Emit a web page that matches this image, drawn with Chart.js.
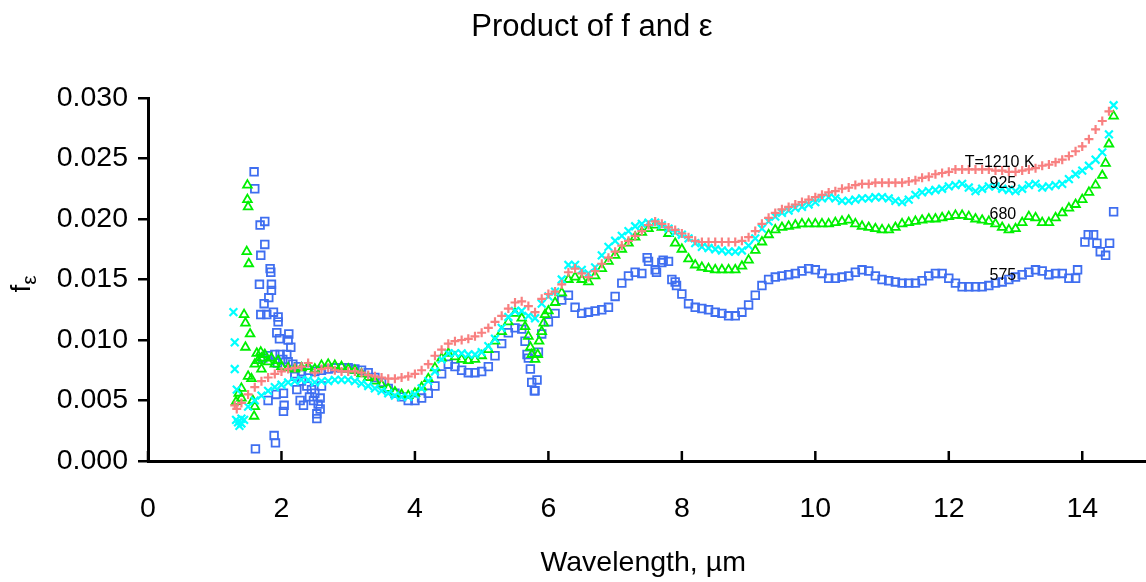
<!DOCTYPE html>
<html>
<head>
<meta charset="utf-8">
<title>Product of f and ε</title>
<script src="https://cdn.jsdelivr.net/npm/chart.js@4.4.1/dist/chart.umd.min.js"></script>
<style>
  html, body { margin: 0; padding: 0; background: #fff; }
  #wrap { width: 1146px; height: 582px; }
</style>
</head>
<body>
<div id="wrap"><canvas id="feChart" width="1146" height="582"></canvas></div>
<script>
// Wavelength grid (µm) shared by the four temperature series
const wavelength = [
  1.3, 1.4, 1.5, 1.6, 1.7, 1.8, 1.9,
  2.0, 2.1, 2.2, 2.3, 2.4, 2.5, 2.6, 2.7, 2.8, 2.9,
  3.0, 3.1, 3.2, 3.3, 3.4, 3.5, 3.6, 3.7, 3.8, 3.9,
  4.0, 4.1, 4.2, 4.3, 4.4, 4.5, 4.6, 4.7, 4.8, 4.9,
  5.0, 5.1, 5.2, 5.3, 5.4, 5.5, 5.6, 5.7, 5.8, 5.9,
  6.0, 6.1, 6.2, 6.3, 6.4, 6.5, 6.6, 6.7, 6.8, 6.9,
  7.0, 7.1, 7.2, 7.3, 7.4, 7.5, 7.6, 7.7, 7.8, 7.9,
  8.0, 8.1, 8.2, 8.3, 8.4, 8.5, 8.6, 8.7, 8.8, 8.9,
  9.0, 9.1, 9.2, 9.3, 9.4, 9.5, 9.6, 9.7, 9.8, 9.9,
  10.0, 10.1, 10.2, 10.3, 10.4, 10.5, 10.6, 10.7, 10.8, 10.9,
  11.0, 11.1, 11.2, 11.3, 11.4, 11.5, 11.6, 11.7, 11.8, 11.9,
  12.0, 12.1, 12.2, 12.3, 12.4, 12.5, 12.6, 12.7, 12.8, 12.9,
  13.0, 13.1, 13.2, 13.3, 13.4, 13.5, 13.6, 13.7, 13.8, 13.9,
  14.0, 14.1, 14.2, 14.3, 14.4
];

// T = 1210 K
const fe1210 = [
  .0046, .0048, .0055, .0061, .0066, .0069, .0072,
  .0074, .0076, .0077, .0078, .0081, .0073, .0076, .0077, .0075, .0074,
  .0074, .0074, .0073, .0071, .0070, .0069, .0068, .0068, .0069, .0070,
  .0072, .0075, .0080, .0087, .0092, .0097, .0099, .0100, .0101, .0103,
  .0106, .0110, .0115, .0120, .0126, .0131, .0132, .0128, .0123, .0134,
  .0138, .0140, .0146, .0156, .0159, .0155, .0152, .0157, .0163, .0168,
  .0173, .0178, .0182, .0186, .0190, .0195, .0198, .0196, .0193, .0191,
  .0188, .0185, .0182, .0181, .0181, .0181, .0181, .0181, .0181, .0182,
  .0185, .0190, .0196, .0201, .0205, .0208, .0210, .0212, .0214, .0216,
  .0218, .0220, .0222, .0223, .0225, .0226, .0228, .0229, .0229, .0230,
  .0230, .0230, .0230, .0230, .0231, .0232, .0234, .0235, .0237, .0238,
  .0239, .0241, .0241, .0241, .0241, .0241, .0241, .0240, .0240, .0239,
  .0239, .0240, .0241, .0242, .0244, .0245, .0247, .0249, .0252, .0256,
  .0260, .0266, .0274, .0281, .0289
];

// T = 925 K
const fe925 = [
  null, .0035, .0045, .0050, .0054, .0058, .0061,
  .0063, .0065, .0066, .0067, .0067, .0065, .0066, .0066, .0067, .0067,
  .0067, .0066, .0064, .0062, .0060, .0058, .0056, .0054, .0053, .0053,
  .0055, .0060, .0066, .0074, .0084, .0089, .0089, .0089, .0088, .0088,
  .0090, .0095, .0101, .0110, .0119, .0124, .0124, .0120, .0118, .0130,
  .0136, .0140, .0150, .0162, .0162, .0158, .0155, .0160, .0170, .0177,
  .0182, .0186, .0190, .0194, .0196, .0197, .0197, .0195, .0192, .0189,
  .0187, .0184, .0180, .0177, .0176, .0175, .0174, .0173, .0173, .0174,
  .0178, .0184, .0192, .0198, .0202, .0205, .0207, .0209, .0210, .0212,
  .0214, .0217, .0218, .0217, .0215, .0215, .0216, .0217, .0217, .0218,
  .0218, .0217, .0215, .0214, .0216, .0220, .0222, .0223, .0224, .0225,
  .0227, .0228, .0229, .0226, .0223, .0225, .0227, .0227, .0225, .0224,
  .0223, .0225, .0228, .0229, .0226, .0227, .0228, .0229, .0233, .0237,
  .0240, .0244, .0249, .0255, .0270
];

// T = 680 K
const fe680 = [
  null, .0060, .0070, .0080, .0085, .0082, .0080,
  .0078, .0077, .0076, .0077, .0078, .0076, .0079, .0080, .0079, .0078,
  .0076, .0075, .0072, .0069, .0066, .0063, .0060, .0057, .0055, .0054,
  .0056, .0061, .0068, .0077, .0085, .0089, .0086, .0084, .0083, .0084,
  .0087, .0092, .0099, .0107, .0115, .0122, .0118, .0103, .0084, .0107,
  .0124, .0131, .0139, .0150, .0152, .0150, .0148, .0153, .0159, .0165,
  .0170, .0175, .0180, .0185, .0189, .0192, .0195, .0193, .0188, .0180,
  .0175, .0167, .0162, .0160, .0159, .0158, .0158, .0158, .0158, .0161,
  .0166, .0174, .0181, .0187, .0191, .0193, .0194, .0195, .0196, .0196,
  .0196, .0196, .0196, .0197, .0198, .0199, .0196, .0194, .0193, .0192,
  .0191, .0191, .0193, .0196, .0197, .0198, .0199, .0200, .0200, .0201,
  .0202, .0203, .0203, .0202, .0200, .0199, .0198, .0196, .0193, .0191,
  .0192, .0197, .0202, .0201, .0197, .0197, .0201, .0205, .0209, .0212,
  .0216, .0222, .0228, .0236, .0262
];

// T = 575 K
const fe575 = [
  null, null, null, null, null, null, null,
  null, null, .0072, .0074, .0075, .0074, .0075, .0076, .0077, .0077,
  .0077, .0076, .0075, .0073, .0069, .0065, .0060, .0056, .0053, .0050,
  .0050, .0052, .0056, .0062, .0072, .0080, .0078, .0075, .0073, .0073,
  .0074, .0078, .0087, .0097, .0106, .0110, .0109, .0085, .0058, .0105,
  .0115, .0122, .0133, .0137, .0127, .0122, .0123, .0124, .0125, .0127,
  .0136, .0147, .0153, .0156, .0155, .0165, .0158, .0164, .0165, .0148,
  .0138, .0130, .0127, .0126, .0125, .0123, .0122, .0120, .0120, .0123,
  .0129, .0137, .0145, .0150, .0152, .0153, .0154, .0155, .0157, .0159,
  .0158, .0155, .0151, .0151, .0152, .0153, .0156, .0158, .0157, .0153,
  .0150, .0149, .0148, .0147, .0147, .0147, .0149, .0153, .0155, .0155,
  .0151, .0147, .0144, .0144, .0144, .0144, .0145, .0147, .0148, .0150,
  .0152, .0154, .0156, .0158, .0157, .0154, .0155, .0155, .0151, .0151,
  null, null, null, null, null
];

// scattered readings off the grid (noisy short-wave end, dips, long-wave end)
const extraWl1210 = [1.33];
const extraFe1210 = [.0043];

const extraWl925 = [1.28, 1.30, 1.30, 1.33, 1.35, 1.37, 1.40, 1.44, 1.32, 14.47];
const extraFe925 = [.0123, .0098, .0076, .0059, .0032, .0029, .0031, .0034, .0034, .0294];

const extraWl680 = [
  1.49, 1.49, 1.50, 1.48, 1.51, 1.44, 1.46, 1.53, 1.46, 1.63, 1.69, 1.36,
  1.55, 1.60, 1.59, 1.57, 1.65, 1.75, 1.85, 1.95, 1.70, 1.32, 1.40,
  5.65, 5.73, 5.75, 5.84, 5.86, 5.93, 5.95,
  14.35, 14.47
];
const extraFe680 = [
  .0228, .0216, .0210, .0173, .0163, .0121, .0114, .0105, .0094, .0089, .0090, .0056,
  .0068, .0045, .0037, .0050, .0083, .0088, .0085, .0083, .0076, .0049, .0052,
  .0111, .0094, .0088, .0088, .0099, .0114, .0121,
  .0246, .0285
];

const extraWl575 = [
  1.59, 1.60, 1.68, 1.75, 1.75, 1.69, 1.83, 1.84, 1.67, 1.85,
  1.85, 1.81, 1.74, 1.69, 1.78, 1.88, 1.95, 1.95, 1.93, 1.97,
  2.11, 2.10, 2.14, 1.90, 1.98, 2.08, 2.10, 1.94, 1.80, 1.92,
  2.03, 2.04, 2.03, 1.89, 1.91, 1.61, 2.20, 2.23, 2.28, 2.33,
  2.45, 2.48, 2.58, 2.58, 2.53, 2.53, 2.60, 1.72, 1.80, 2.02,
  2.17, 2.25, 2.30, 2.38, 2.42, 2.50, 2.55,
  5.65, 5.68, 5.73, 5.75, 5.79, 5.83, 5.85,
  7.48, 7.62, 7.72, 7.85, 7.92,
  13.93, 14.04, 14.09, 14.17, 14.22, 14.27, 14.35, 14.41, 14.47
];
const extraFe575 = [
  .0239, .0225, .0195, .0198, .0179, .0170, .0159, .0156, .0146, .0146,
  .0141, .0135, .0130, .0121, .0121, .0123, .0119, .0115, .0106, .0101,
  .0105, .0100, .0094, .0088, .0088, .0088, .0082, .0081, .0050, .0055,
  .0056, .0046, .0041, .0021, .0015, .0010, .0070, .0059, .0050, .0046,
  .0059, .0050, .0052, .0043, .0039, .0035, .0062, .0085, .0087, .0084,
  .0080, .0078, .0066, .0062, .0053, .0056, .0047,
  .0099, .0088, .0076, .0065, .0058, .0067, .0090,
  .0168, .0156, .0166, .0150, .0145,
  .0158, .0181, .0187, .0187, .0180, .0173, .0170, .0180, .0206
];

// Axis ticks
const xTicks = [0, 2, 4, 6, 8, 10, 12, 14];
const yTicks = [0, 0.005, 0.010, 0.015, 0.020, 0.025, 0.030];

// Curve labels placed in data units
const curveLabels = ['T=1210 K', '925', '680', '575'];
const curveLabelWl = [12.24, 12.61, 12.61, 12.61];
const curveLabelFe = [0.0243, 0.0226, 0.0200, 0.0150];

const FONT = "'Liberation Sans', Arial, sans-serif";

function toPoints(values, extraWl, extraFe) {
  const pts = [];
  wavelength.forEach((w, i) => {
    if (values[i] !== null) pts.push({ x: w, y: values[i] });
  });
  extraWl.forEach((w, i) => pts.push({ x: w, y: extraFe[i] }));
  return pts;
}

// titles, curve labels and inward x ticks
const textPlugin = {
  id: 'textPlugin',
  afterDraw(chart) {
    const ctx = chart.ctx;
    const area = chart.chartArea;
    const xs = chart.scales.x;
    const ys = chart.scales.y;
    ctx.save();
    ctx.fillStyle = '#000';
    ctx.strokeStyle = '#000';

    // the x axis line runs on to the right edge of the figure
    const axisY = Math.round(area.bottom) + 0.5;
    ctx.lineWidth = 3;
    ctx.beginPath();
    ctx.moveTo(area.right - 2, axisY);
    ctx.lineTo(chart.width, axisY);
    ctx.stroke();

    // x ticks point up into the plot
    ctx.lineWidth = 2.5;
    xs.ticks.forEach((t) => {
      const px = xs.getPixelForValue(t.value);
      ctx.beginPath();
      ctx.moveTo(px, area.bottom);
      ctx.lineTo(px, area.bottom - 10);
      ctx.stroke();
    });

    ctx.textBaseline = 'alphabetic';
    ctx.textAlign = 'center';
    ctx.font = '31px ' + FONT;
    ctx.fillText('Product of f and ε', 592, 36);

    ctx.font = '28.5px ' + FONT;
    ctx.fillText('Wavelength, µm', (area.left + area.right) / 2, 571);

    // y title: f with subscript epsilon, rotated
    ctx.save();
    ctx.translate(30, 284);
    ctx.rotate(-Math.PI / 2);
    ctx.textAlign = 'left';
    ctx.font = '28px ' + FONT;
    const fw = ctx.measureText('f').width;
    ctx.font = '21px ' + FONT;
    const ew = ctx.measureText('ε').width;
    const start = -(fw + ew) / 2;
    ctx.font = '28px ' + FONT;
    ctx.fillText('f', start, 0);
    ctx.font = '21px ' + FONT;
    ctx.fillText('ε', start + fw, 6);
    ctx.restore();

    ctx.textAlign = 'left';
    ctx.font = '16px ' + FONT;
    curveLabels.forEach((txt, i) => {
      ctx.fillText(txt, xs.getPixelForValue(curveLabelWl[i]), ys.getPixelForValue(curveLabelFe[i]));
    });
    ctx.restore();
  }
};

new Chart(document.getElementById('feChart'), {
  type: 'scatter',
  data: {
    datasets: [
      {
        label: 'T=1210 K',
        data: toPoints(fe1210, extraWl1210, extraFe1210),
        pointStyle: 'cross',
        pointRadius: 4.5,
        borderColor: '#f88080',
        backgroundColor: '#f88080',
        borderWidth: 2.2
      },
      {
        label: '925 K',
        data: toPoints(fe925, extraWl925, extraFe925),
        pointStyle: 'crossRot',
        pointRadius: 5.5,
        borderColor: '#00ffff',
        backgroundColor: '#00ffff',
        borderWidth: 2.2
      },
      {
        label: '680 K',
        data: toPoints(fe680, extraWl680, extraFe680),
        pointStyle: 'triangle',
        pointRadius: 5,
        borderColor: '#00f000',
        backgroundColor: 'rgba(0,0,0,0)',
        borderWidth: 1.8
      },
      {
        label: '575 K',
        data: toPoints(fe575, extraWl575, extraFe575),
        pointStyle: 'rect',
        pointRadius: 5.4,
        borderColor: '#3f6ef0',
        backgroundColor: 'rgba(0,0,0,0)',
        borderWidth: 1.8
      }
    ]
  },
  options: {
    responsive: false,
    devicePixelRatio: 1,
    animation: false,
    layout: { padding: { top: 98, left: 0, right: 0, bottom: 0 } },
    plugins: {
      legend: { display: false },
      tooltip: { enabled: false },
      title: { display: false }
    },
    scales: {
      x: {
        type: 'linear',
        min: 0,
        max: 14.84,
        afterBuildTicks: (s) => { s.ticks = xTicks.map((v) => ({ value: v })); },
        afterFit: (s) => { s.height = 121; },
        ticks: {
          color: '#000',
          font: { family: FONT, size: 28.5 },
          padding: 31,
          maxRotation: 0,
          callback: (v) => String(v)
        },
        grid: { display: false, drawTicks: false },
        border: { display: true, color: '#000', width: 3 }
      },
      y: {
        type: 'linear',
        min: 0,
        max: 0.03,
        afterBuildTicks: (s) => { s.ticks = yTicks.map((v) => ({ value: v })); },
        afterFit: (s) => { s.width = 148; },
        ticks: {
          color: '#000',
          font: { family: FONT, size: 28.5 },
          padding: 10,
          callback: (v) => v.toFixed(3)
        },
        grid: {
          drawOnChartArea: false,
          drawTicks: true,
          tickLength: 10,
          color: '#000',
          lineWidth: 2.5
        },
        border: { display: true, color: '#000', width: 3 }
      }
    }
  },
  plugins: [textPlugin]
});
</script>
</body>
</html>
